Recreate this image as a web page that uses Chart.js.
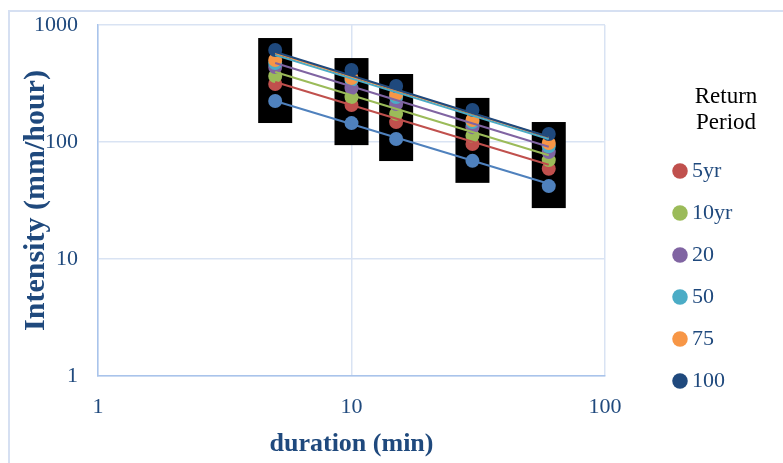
<!DOCTYPE html>
<html>
<head>
<meta charset="utf-8">
<script src="https://cdn.jsdelivr.net/npm/chart.js@4/dist/chart.umd.min.js"></script>
<style>
  body { margin: 0; background: #ffffff; }
  #wrap { width: 783px; height: 463px; }
</style>
</head>
<body>
<div id="wrap"><canvas id="idf" width="783" height="463"></canvas></div>
<script>
// IDF curves, log-log, durations in minutes
const durations = [5, 10, 15, 30, 60]
const periods = ["2yr", "5yr", "10yr", "20", "50", "75", "100"]

// intensity (mm/hour) per return period
const i2yr = [224, 145, 106, 69, 42]
const i5yr = [313, 207, 148, 96, 59]
const i10yr = [366, 242, 174, 113, 70]
const i20 = [438, 289, 211, 134, 82]
const i50 = [473, 339, 242, 148, 92]
const i75 = [502, 352, 257, 154, 98]
const i100 = [611, 412, 301, 188, 117]
const intensities = [i2yr, i5yr, i10yr, i20, i50, i75, i100]

// power trendline ends (at 5 and 60 min)
const trendAt5 = [224, 326, 397, 473, 554, 576, 588]
const trendAt60 = [44, 64, 77, 91, 106, 110, 111]

const xTicks = [1, 10, 100]
const yTicks = [1, 10, 100, 1000]

const colours = ["#4F81BD", "#C0504D", "#9BBB59", "#8064A2", "#4BACC6", "#F79646", "#1F497D"]
const textBlue = "#1F497D"
const serif = "'Liberation Serif', 'Times New Roman', serif"

const datasets = []
periods.forEach((p, k) => {
  datasets.push({
    label: p,
    data: durations.map((d, j) => ({ x: d, y: intensities[k][j] })),
    showLine: false,
    pointStyle: "circle",
    pointRadius: 7,
    backgroundColor: colours[k],
    borderColor: colours[k],
    borderWidth: 0,
    order: 20 - k,
  })
})
periods.forEach((p, k) => {
  datasets.push({
    label: p + " trend",
    data: [{ x: durations[0], y: trendAt5[k] }, { x: durations[durations.length - 1], y: trendAt60[k] }],
    showLine: true,
    pointRadius: 0,
    borderColor: colours[k],
    borderWidth: 2,
    order: 10 - k,
  })
})

// black blocks behind each duration's markers
const blocks = {
  id: "blocks",
  beforeDatasetsDraw(chart) {
    const { ctx, scales } = chart
    ctx.save()
    ctx.fillStyle = "#000000"
    durations.forEach((d, j) => {
      const x = scales.x.getPixelForValue(d)
      const ys = intensities.map((s) => scales.y.getPixelForValue(s[j]))
      const top = Math.min(...ys) - 12
      const bottom = Math.max(...ys) + 22
      ctx.fillRect(x - 17, top, 34, bottom - top)
    })
    ctx.restore()
  },
}

// outer chart frame + legend placement
const frame = {
  id: "frame",
  beforeLayout(chart) {
    const lg = chart.legend
    if (lg && !lg._fixed) {
      const fit = lg.fit
      lg.fit = function () {
        fit.call(this)
        this.width = 178
      }
      lg._fixed = true
    }
  },
  afterLayout(chart) {
    const lg = chart.legend
    lg.left = 659
    lg.width = 134
    lg.right = lg.left + lg.width
    lg.top = 0
    lg.bottom = 463
    lg.height = 463
  },
  beforeDraw(chart) {
    const ctx = chart.ctx
    ctx.save()
    ctx.strokeStyle = "#D6E0F2"
    ctx.lineWidth = 2
    ctx.beginPath()
    ctx.moveTo(9, 463)
    ctx.lineTo(9, 11)
    ctx.lineTo(783, 11)
    ctx.stroke()
    ctx.restore()
  },
}

new Chart(document.getElementById("idf"), {
  type: "scatter",
  data: { datasets: datasets },
  plugins: [blocks, frame],
  options: {
    responsive: false,
    animation: false,
    layout: { padding: { left: 0, top: 25, right: 0, bottom: 0 } },
    plugins: {
      tooltip: { enabled: false },
      legend: {
        position: "right",
        align: "start",
        labels: {
          filter: (item) => item.datasetIndex > 0 && item.datasetIndex < periods.length,
          sort: (a, b) => a.datasetIndex - b.datasetIndex,
          usePointStyle: true,
          boxWidth: 2,
          boxHeight: 11,
          padding: 20,
          color: textBlue,
          font: { family: serif, size: 22 },
        },
        title: {
          display: true,
          text: ["Return", "Period"],
          color: "#000000",
          padding: { top: 85, bottom: 28 },
          font: { family: serif, size: 23, lineHeight: 1.17 },
        },
      },
    },
    scales: {
      x: {
        type: "logarithmic",
        min: 1,
        max: 100,
        afterBuildTicks: (s) => { s.ticks = xTicks.map((v) => ({ value: v })) },
        afterFit: (s) => { s.height = 87 },
        grid: { color: "#D9E3F3", lineWidth: 1.5, drawTicks: false },
        border: { color: "#A9C4EB", width: 1.5 },
        ticks: {
          padding: 18,
          color: textBlue,
          font: { family: serif, size: 22 },
          callback: (v) => String(v),
        },
        title: {
          display: true,
          text: "duration (min)",
          color: textBlue,
          padding: { top: 0, bottom: 3 },
          font: { family: serif, size: 26, weight: "bold" },
        },
      },
      y: {
        type: "logarithmic",
        min: 1,
        max: 1000,
        afterBuildTicks: (s) => { s.ticks = yTicks.map((v) => ({ value: v })) },
        afterFit: (s) => {
          s.width = 98
          s.paddingTop = 12
          s.paddingBottom = 12
        },
        grid: { color: "#D9E3F3", lineWidth: 1.5, drawTicks: false },
        border: { color: "#A9C4EB", width: 1.5 },
        ticks: {
          padding: 20,
          color: textBlue,
          font: { family: serif, size: 22 },
          callback: (v) => String(v),
        },
        title: {
          display: true,
          text: "Intensity (mm/hour)",
          color: textBlue,
          padding: { top: 18, bottom: 0 },
          font: { family: serif, size: 30, weight: "bold" },
        },
      },
    },
  },
})
</script>
</body>
</html>
